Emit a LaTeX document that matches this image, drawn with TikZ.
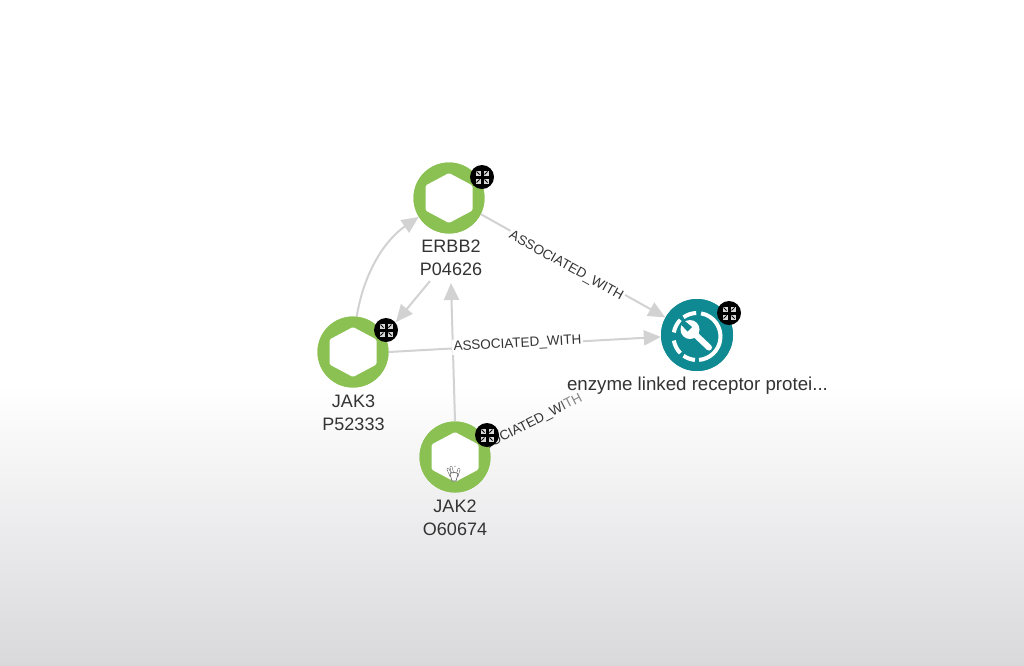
\documentclass[tikz,border=0pt]{standalone}
\usepackage{fontspec}
\setmainfont{Liberation Sans}
\usetikzlibrary{arrows.meta,calc}
\definecolor{ringgreen}{HTML}{8BC152}
\definecolor{tealc}{HTML}{0F8A92}
\definecolor{edgec}{HTML}{D2D2D2}
\definecolor{labc}{HTML}{333333}
\definecolor{bgbot}{HTML}{D9D9DC}
\tikzset{
  ring/.style={circle,draw=none,fill=ringgreen,minimum size=71pt,inner sep=0pt},
  enz/.style={circle,draw=none,fill=tealc,minimum size=72pt,inner sep=0pt},
  badge/.style={circle,draw=none,fill=black,minimum size=24pt,inner sep=0pt},
  edge/.style={draw=edgec,line width=2pt,-{Triangle[length=17pt,width=15pt,fill=edgec]},shorten >=0pt},
  nlabel/.style={text=labc,font=\fontsize{18}{23}\selectfont,align=center},
  elabel/.style={text=labc,font=\fontsize{13.5}{15}\selectfont,inner sep=1.5pt}
}
\newcommand{\hexa}[1]{\fill[white,rounded corners=1.5pt] ($(#1)+(0,-25)$) -- ($(#1)+(23.5,-12.5)$) -- ($(#1)+(23.5,12.5)$) -- ($(#1)+(0,25)$) -- ($(#1)+(-23.5,12.5)$) -- ($(#1)+(-23.5,-12.5)$) -- cycle;}
\newcommand{\expicon}[1]{
  \foreach \sx in {-1,1}\foreach \sy in {-1,1}{
    \fill[white!85!black] ($(#1)+(\sx*1.5,\sy*1.5)$) rectangle ($(#1)+(\sx*6.5,\sy*6.5)$);
    \draw[black,line width=0.8pt] ($(#1)+(\sx*2.5,\sy*2.5)$) -- ($(#1)+(\sx*5.5,\sy*5.5)$);
  }
}
\newcommand{\finger}[2]{\draw[black!65,line width=2.6pt,line cap=round] (#1) -- (#2);\draw[white,line width=1.6pt,line cap=round] (#1) -- (#2);}
\begin{document}
\begin{tikzpicture}[x=1pt,y=-1pt]
\useasboundingbox (0,0) rectangle (1024,665);
\fill[white] (0,0) rectangle (1024,665);
\shade[top color=white,bottom color=bgbot,draw=none] (0,385) rectangle (1024,665);
% nodes
\node[ring] (erbb) at (449,198) {};
\node[ring] (jak3) at (353,352) {};
\node[ring] (jak2) at (455,457) {};
\node[enz] (enzy) at (697,335) {};
\coordinate (e1) at (430,281);
\coordinate (e2) at (396,322);
\coordinate (e3) at (451,283);
% edges
\draw[edge] (jak3.84) .. controls (364,272) and (385,240) .. (erbb.212);
\draw[edge] (e1) -- (e2);
\draw[edge] (jak2.90) -- (e3);
\draw[edge] (erbb.-27) -- (enzy.151);
\draw[edge] (jak3.east) -- (enzy.183);
\node[elabel,fill=white,rotate=-29] (lab1) at (566,266) {ASSOCIATED\_WITH};
\node[elabel,fill=white,rotate=3] (lab2) at (517.5,344) {ASSOCIATED\_WITH};
\node[elabel,rotate=27,anchor=east] (lab3) at (583,397) {ASSOCIATED\_W\textcolor{labc!80}{I}\textcolor{labc!60}{TH}};
% redraw node faces above labels
\node[ring] (erbbtop) at (449,198) {};
\node[ring] (jak3top) at (353,352) {};
\node[ring] (jak2top) at (455,457) {};
\hexa{erbb}\hexa{jak3}\hexa{jak2}
% enzyme icon
\node[enz] (enzytop) at (697,335) {};
\begin{scope}[shift={(697,336.5)}]
\foreach \a/\b in {-80/85,95/125,135/170,190/225,235/268}{
  \draw[white,line width=4pt] (\a:23.5) arc[start angle=\a,end angle=\b,radius=23.5];
}
\draw[white,line width=6pt] (-5,-5) -- (12,11);
\fill[white] (12,11) circle (3);
\fill[white] (-7,-7) circle (9.5);
\fill[tealc] (-14,-17) -- (-5,-9.5) -- (-9.5,-5) -- (-17,-13) -- cycle;
\end{scope}
% badges
\node[badge] (b1) at (482,177) {}; \expicon{b1}
\node[badge] (b2) at (386,330) {}; \expicon{b2}
\node[badge] (b3) at (487,435) {}; \expicon{b3}
\node[badge] (b4) at (729,313) {}; \expicon{b4}
% hand cursor
\finger{448,469}{451,476}
\finger{451,467}{453,475}
\finger{455,467}{455,475}
\finger{459,469}{457,476}
\draw[black!65,fill=white,line width=0.6pt] (450,474) .. controls (451,472) and (457,472) .. (458,474) -- (456,481) -- (452,481) -- cycle;
% labels
\node[nlabel] (t1) at (451,258) {ERBB2\\P04626};
\node[nlabel] (t2) at (353.5,412.5) {JAK3\\P52333};
\node[nlabel] (t3) at (455,518) {JAK2\\O60674};
\node[nlabel,font=\fontsize{18.7}{23}\selectfont] (t4) at (697.5,386) {enzyme linked receptor protei...};
\end{tikzpicture}
\end{document}
